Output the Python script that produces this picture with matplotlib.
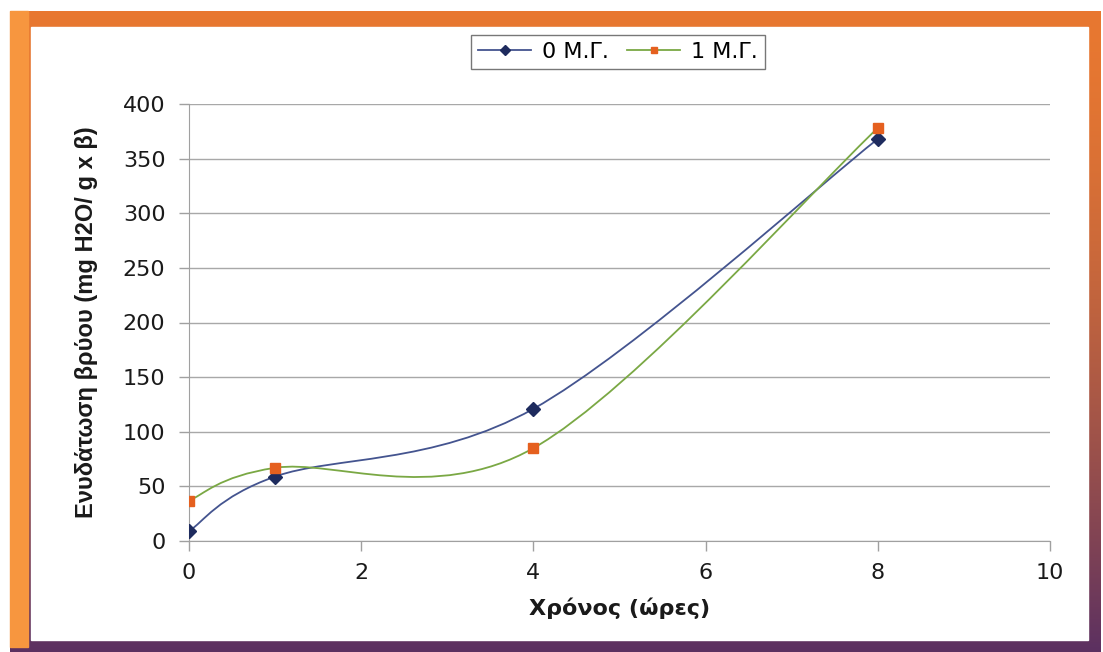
import numpy as np
import matplotlib.pyplot as plt
from matplotlib.path import Path
from matplotlib.patches import PathPatch, Rectangle
from matplotlib.lines import Line2D

plt.rcParams['font.family'] = ['DejaVu Sans']

# hydration measurements
hours = [0, 1, 4, 8]
mg0 = [9, 59, 121, 368]
mg1 = [37, 67, 85, 378]
series_labels = ['0 Μ.Γ.', '1 Μ.Γ.']
x_ticks = [0, 2, 4, 6, 8, 10]
y_ticks = [0, 50, 100, 150, 200, 250, 300, 350, 400]


def smooth_path(xs, ys):
    # Catmull-Rom style Bezier path through the points (spreadsheet "smoothed line")
    pts = np.column_stack([xs, ys]).astype(float)
    ext = np.vstack([pts[0], pts, pts[-1]])
    verts = [pts[0]]
    codes = [Path.MOVETO]
    for i in range(1, len(ext) - 2):
        p0, p1, p2, p3 = ext[i - 1], ext[i], ext[i + 1], ext[i + 2]
        c1 = p1 + (p2 - p0) / 6.0
        c2 = p2 - (p3 - p1) / 6.0
        verts += [c1, c2, p2]
        codes += [Path.CURVE4] * 3
    return Path(verts, codes)


fig = plt.figure(figsize=(11.03, 6.52), dpi=100)
W, H = 1103, 652

# frame: gradient border around a white panel
bg = fig.add_axes([0, 0, 1, 1], zorder=-10)
bg.set_xlim(0, W)
bg.set_ylim(H, 0)
bg.axis('off')
top = np.array([0.91, 0.47, 0.19])
bot = np.array([0.36, 0.19, 0.38])
t = np.linspace(0, 1, 256)[:, None]
grad = (top * (1 - t ** 1.6) + bot * t ** 1.6)[:, None, :]
bg.imshow(grad, extent=[10, 1101, H, 11], aspect='auto', zorder=0)
bg.add_patch(Rectangle((10, 11), 18, 636, color='#f7963f', zorder=1))
bg.add_patch(Rectangle((31, 27), 1057, 613, color='white', zorder=2))

ax = fig.add_axes([189 / W, 1 - 541 / H, (1050 - 189) / W, (541 - 104) / H])
ax.set_facecolor('none')

line_kw = dict(fill=False, lw=1.3, zorder=3, capstyle='round')
ax.add_patch(PathPatch(smooth_path(hours, mg0), edgecolor='#44548f', **line_kw))
ax.add_patch(PathPatch(smooth_path(hours, mg1), edgecolor='#7aa844', **line_kw))
ax.plot(hours, mg0, ls='none', marker='D', ms=7, color='#1e2b5e', zorder=4)
ax.plot(hours, mg1, ls='none', marker='s', ms=7, color='#e5601f', zorder=4)

ax.set_xlim(0, 10)
ax.set_ylim(0, 400)
ax.set_xticks(x_ticks)
ax.set_yticks(y_ticks)
ax.tick_params(axis='both', labelsize=16, colors='#a0a0a0', labelcolor='#1a1a1a',
               length=7, width=1, direction='out')
ax.tick_params(axis='x', pad=9)
ax.tick_params(axis='y', pad=10)
ax.grid(axis='y', color='#a8a8a8', lw=1)
for s in ['top', 'right']:
    ax.spines[s].set_visible(False)
for s in ['left', 'bottom']:
    ax.spines[s].set_color('#a0a0a0')

ax.set_xlabel('Χρόνος (ώρες)', fontsize=16, fontweight='bold', labelpad=10,
              color='#1a1a1a')
ax.set_ylabel('Ενυδάτωση βρύου (mg H2O/ g x β)', fontsize=17, fontweight='bold',
              labelpad=18, color='#1a1a1a', family=['Liberation Sans', 'DejaVu Sans'])

handles = [
    Line2D([], [], color='#44548f', lw=1.3, marker='D', ms=5, mfc='#1e2b5e', mec='#1e2b5e'),
    Line2D([], [], color='#7aa844', lw=1.3, marker='s', ms=5, mfc='#e5601f', mec='#e5601f'),
]
leg = fig.legend(handles, series_labels, loc='center', bbox_to_anchor=(618 / W, 1 - 52 / H),
                 ncol=2, fontsize=16, frameon=True, fancybox=False, handlelength=2.4,
                 columnspacing=0.8, handletextpad=0.5, borderpad=0.3)
leg.get_frame().set_edgecolor('#555555')
leg.get_frame().set_linewidth(1)

fig.savefig('out.png', dpi=100)
